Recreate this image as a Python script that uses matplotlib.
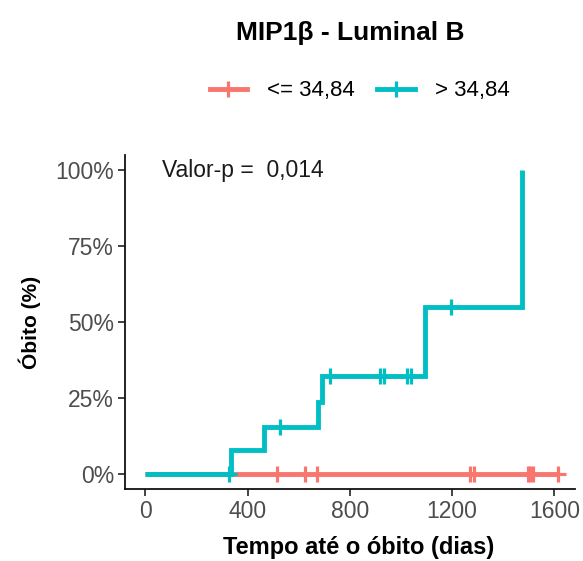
import numpy as np
import matplotlib
matplotlib.use("Agg")
import matplotlib.pyplot as plt
from matplotlib.lines import Line2D

plt.rcParams['font.family'] = ['Liberation Sans', 'DejaVu Sans']

# ---- data ----
group_labels = ["<= 34,84", "> 34,84"]
colors = ["#F8766D", "#00BFC4"]

# group "<= 34,84": no events
low_times = [0, 1616]
low_pct = [0.0, 0.0]
low_censor = [513, 625, 671, 1271, 1284, 1496, 1506, 1516, 1616]

# group "> 34,84"
high_times = [0, 335, 462, 675, 690, 1094, 1473]
high_pct = [0.0, 7.7, 15.4, 23.8, 32.2, 55.0, 100.0]
high_censor = [326, 528, 723, 916, 935, 1023, 1041, 1194]

xticks = [0, 400, 800, 1200, 1600]
yticks = [0, 25, 50, 75, 100]
ytick_labels = ["0%", "25%", "50%", "75%", "100%"]
pvalue_text = "Valor-p =  0,014"

# ---- figure ----
fig = plt.figure(figsize=(5.83, 5.61), dpi=100)
ax = fig.add_axes([0.2144, 0.1283, 0.7719, 0.5954])

def step_at(times, pct, t):
    idx = np.searchsorted(times, t, side='right') - 1
    return np.asarray(pct)[idx]

lw = 3.5
ms = 11.5
mew = 2.3
for times, pct, cens, col in [(low_times, low_pct, low_censor, colors[0]),
                              (high_times, high_pct, high_censor, colors[1])]:
    ax.step(times, pct, where='post', color=col, lw=lw, solid_capstyle='butt',
            solid_joinstyle='miter', zorder=2)
    cy = [step_at(times, pct, t) for t in cens]
    ax.plot(cens, cy, linestyle='none', marker='+', markersize=ms,
            markeredgewidth=mew, color=col, zorder=3)

ax.set_xlim(-80, 1681)
ax.set_ylim(-5, 105)
ax.set_xticks(xticks)
ax.set_yticks(yticks)
ax.set_yticklabels(ytick_labels)
ax.tick_params(axis='both', labelsize=16.5, labelcolor='#4D4D4D', color='#222222',
               length=5, width=1.2, pad=3)
for s in ['top', 'right']:
    ax.spines[s].set_visible(False)
for s in ['left', 'bottom']:
    ax.spines[s].set_linewidth(1.3)
    ax.spines[s].set_color('#111111')

ax.text(66, 100, pvalue_text, fontsize=16.5, color='#1a1a1a', ha='left', va='center')

ax.set_xlabel("Tempo até o óbito (dias)", fontsize=17, fontweight='bold')
ax.xaxis.set_label_coords(0.52, -0.142)
ax.set_ylabel("Óbito (%)", fontsize=15, fontweight='bold', labelpad=10)

fig.text(0.600, 0.941, "MIP1β - Luminal B", fontsize=19, fontweight='bold',
         ha='center', va='center')

handles = [Line2D([0], [0], color=c, lw=lw, marker='+', markersize=ms,
                  markeredgewidth=mew) for c in colors]
fig.legend(handles, group_labels, loc='center', bbox_to_anchor=(0.617, 0.838),
           ncol=2, frameon=False, fontsize=16, handlelength=1.7,
           columnspacing=1.0, handletextpad=0.9)

fig.savefig("out.png", dpi=100)
